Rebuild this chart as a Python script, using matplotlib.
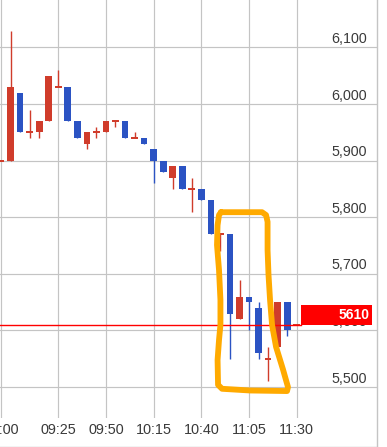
import matplotlib
matplotlib.use("Agg")
import matplotlib.pyplot as plt
from matplotlib.patches import Rectangle
from matplotlib.lines import Line2D
import numpy as np

plt.rcParams['font.family'] = ['Liberation Sans', 'DejaVu Sans']

# 5-minute candles, index 0 = first (partly cut off) candle
opens  = [5900, 5900, 6020, 5950, 5950, 5970, 6030, 6030, 5970, 5930, 5950, 5950, 5970, 5970, 5940, 5940,
          5920, 5900, 5870, 5890, 5850, 5850, 5830, 5770, 5770, 5620, 5660, 5640, 5550, 5570, 5650, 5610]
closes = [5900, 6030, 5950, 5950, 5970, 6050, 6030, 5970, 5940, 5950, 5950, 5970, 5970, 5940, 5940, 5930,
          5900, 5880, 5890, 5850, 5850, 5830, 5770, 5770, 5630, 5660, 5650, 5560, 5550, 5650, 5600, 5610]
highs  = [5900, 6130, 6020, 5990, 5970, 6050, 6060, 6030, 5970, 5950, 5960, 5970, 5970, 5970, 5950, 5940,
          5920, 5900, 5890, 5890, 5870, 5850, 5830, 5770, 5770, 5690, 5660, 5650, 5570, 5650, 5650, 5610]
lows   = [5900, 5900, 5950, 5940, 5940, 5970, 6030, 5970, 5940, 5920, 5940, 5950, 5960, 5940, 5940, 5930,
          5860, 5880, 5850, 5850, 5810, 5830, 5770, 5740, 5550, 5620, 5600, 5550, 5510, 5570, 5590, 5610]

time_pos = [0, 6, 11, 16, 21, 26, 31]
time_labels = ['09:00', '09:25', '09:50', '10:15', '10:40', '11:05', '11:30']
price_levels = [5500, 5600, 5700, 5800, 5900, 6000, 6100]
last_price = 5610

# hand-drawn highlight (candle index, price)
highlight_x = [23.06, 27.36, 27.78, 27.94, 27.94, 28.04, 28.2, 28.41, 28.83, 29.56, 30.08, 29.98,
               26.1, 23.17, 22.75, 22.7, 22.85, 23.0, 23.0, 22.85, 22.64, 22.7, 22.85, 23.06]
highlight_y = [5809, 5809, 5804, 5792, 5742, 5698, 5654, 5610, 5571, 5531, 5500, 5493,
               5494, 5497, 5504, 5548, 5583, 5610, 5654, 5707, 5751, 5786, 5804, 5809]

RED = '#d03c2b'
BLUE = '#2b53c3'
GRID = '#c4c4c4'
TXT = '#3a3a3a'

fig = plt.figure(figsize=(3.87, 4.47), dpi=100)
ax = fig.add_axes([0, 29 / 447, 377 / 387, 418 / 447])

x = np.arange(len(opens))
o = np.array(opens, dtype=float)
c = np.array(closes, dtype=float)
colors = [RED if cc >= oo else BLUE for oo, cc in zip(o, c)]

min_h = 3.5
body_h = np.maximum(np.abs(c - o), min_h)
body_b = np.where(np.abs(c - o) < min_h, o - min_h / 2, np.minimum(o, c))

ax.vlines(x, lows, highs, colors=colors, lw=1.0, zorder=2)
ax.bar(x, body_h, bottom=body_b, width=0.7, color=colors, zorder=3)

ax.set_xlim(-0.105, 39.41)
ax.set_ylim(5445.4, 6183.9)

ax.set_xticks(time_pos, time_labels)
ax.set_yticks(price_levels)
ax.tick_params(axis='x', length=0, pad=3.6, labelsize=10.4, labelcolor=TXT)
ax.tick_params(axis='y', length=0, labelleft=False, labelright=False)
ax.grid(True, color=GRID, lw=0.85)
ax.set_axisbelow(True)
for s in ax.spines.values():
    s.set_visible(False)

ytr = ax.get_yaxis_transform()
for p in price_levels:
    ax.annotate(f'{p:,}', xy=(0.973, p), xycoords=ytr, xytext=(0, 3.2),
                textcoords='offset points', ha='right', va='baseline',
                fontsize=10.3, color=TXT, zorder=4)

# current price line and label
ax.axhline(last_price, xmin=0, xmax=0.798, color='#ff0000', lw=1.0, zorder=5)
ax.add_patch(Rectangle((0.798, last_price), 0.19, 34.6, transform=ytr,
                       facecolor='#ff0000', edgecolor='none', zorder=6, clip_on=False))
ax.text(0.9796, last_price + 17.3, str(last_price), transform=ytr, ha='right', va='center',
        fontsize=10, fontweight='bold', color='white', zorder=7)

ax.plot(highlight_x, highlight_y, color='#ffaa00', lw=4.2, solid_joinstyle='round',
        solid_capstyle='round', zorder=8, clip_on=False)

# outer frame (right and bottom)
fig.add_artist(Line2D([377 / 387, 377 / 387], [0, 1], color=GRID, lw=1.0))
fig.add_artist(Line2D([0, 377 / 387], [0.5 / 447, 0.5 / 447], color=GRID, lw=1.0))

fig.savefig('out.png', dpi=100)
